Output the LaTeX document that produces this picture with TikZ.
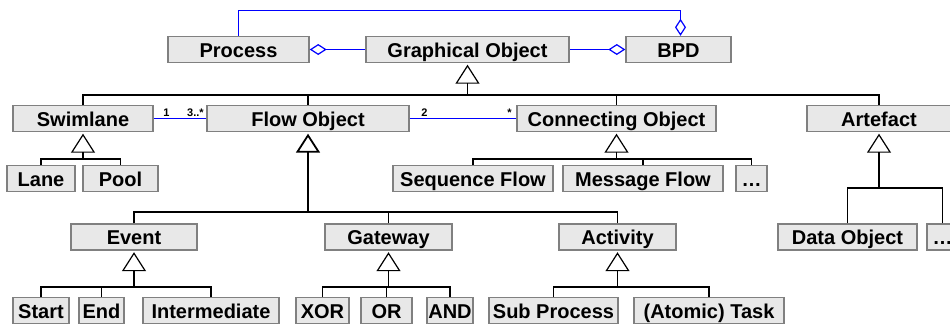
\documentclass[tikz,border=0pt]{standalone}
\usepackage{fontspec}
\setmainfont{Liberation Sans}
\usetikzlibrary{arrows.meta}
\definecolor{boxedge}{RGB}{128,128,128}
\definecolor{boxfill}{RGB}{232,232,232}
\tikzset{
	cls/.style={draw=boxedge, fill=boxfill, line width=1.4pt, inner sep=0pt,
		minimum height=26pt, text height=17pt, text depth=1.5pt,
		font=\bfseries\fontsize{20}{24}\selectfont},
	tree/.style={line width=1.2pt, black},
	isa/.style={line width=1.2pt, -{Triangle[open, length=19pt, width=24pt]}, shorten >=1.5pt},
	agg/.style={line width=1.2pt, blue, {Diamond[open, length=17pt, width=11pt]}-},
	assoc/.style={line width=1.2pt, blue},
	mult/.style={font=\bfseries\fontsize{11}{13}\selectfont, inner sep=1pt, text=black}
}

\begin{document}
\begin{tikzpicture}[x=1pt, y=-1pt]
		%%%%% START %%%%%
		\useasboundingbox (0,0) rectangle (950,327);
		\clip (0,0) rectangle (950,327);
		
		% top row
		\node[cls, minimum width=141] (process) at (238.5,49.5) {Process};
		\node[cls, minimum width=203] (graphical) at (467.5,49.5) {Graphical Object};
		\node[cls, minimum width=105] (bpd) at (678.5,49.5) {BPD};
		
		% second row
		\node[cls, minimum width=140] (swimlane) at (83,118.5) {Swimlane};
		\node[cls, minimum width=202] (flowobj) at (308,118.5) {Flow Object};
		\node[cls, minimum width=199] (connobj) at (616.5,118.5) {Connecting Object};
		\node[cls, minimum width=144] (artefact) at (879,118.5) {Artefact};
		
		\node[cls, minimum width=68] (lane) at (41,178.5) {Lane};
		\node[cls, minimum width=75] (pool) at (120.5,178.5) {Pool};
		\node[cls, minimum width=160] (seqflow) at (473,178.5) {Sequence Flow};
		\node[cls, minimum width=160] (msgflow) at (643,178.5) {Message Flow};
		\node[cls, minimum width=31] (connmore) at (751.5,178.5) {\dots};
		
		\node[cls, minimum width=126] (event) at (134,237) {Event};
		\node[cls, minimum width=127] (gateway) at (388.5,237) {Gateway};
		\node[cls, minimum width=117] (activity) at (617.5,237) {Activity};
		\node[cls, minimum width=139] (dataobj) at (847.5,237) {Data Object};
		\node[cls, minimum width=31] (artmore) at (942.5,237) {\dots};
		
		\node[cls, minimum width=56] (evstart) at (41,310.5) {Start};
		\node[cls, minimum width=45] (evend) at (101.5,310.5) {End};
		\node[cls, minimum width=136] (evinter) at (211,310.5) {Intermediate};
		\node[cls, minimum width=53] (xor) at (322.5,310.5) {XOR};
		\node[cls, minimum width=51] (or) at (386.5,310.5) {OR};
		\node[cls, minimum width=46] (and) at (450,310.5) {AND};
		\node[cls, minimum width=129] (subproc) at (553.5,310.5) {Sub Process};
		\node[cls, minimum width=150] (atomic) at (709,310.5) {(Atomic) Task};
		
		% junctions of the generalisation trees
		\coordinate (gobj-j) at (467.5,95);
		\coordinate (swim-j) at (83,159);
		\coordinate (flow-j) at (308,212);
		\coordinate (conn-j) at (616.5,159);
		\coordinate (art-j) at (879,188);
		\coordinate (event-j) at (134,287);
		\coordinate (gate-j) at (388.5,287);
		\coordinate (act-j) at (617.5,287);
		
		\draw[isa] (gobj-j) -- (graphical.south);
		\foreach \c in {swimlane, flowobj, connobj, artefact}
			\draw[tree] (\c.north) |- (gobj-j);
		
		\draw[isa] (swim-j) -- (swimlane.south);
		\foreach \c in {lane, pool}
			\draw[tree] (\c.north) |- (swim-j);
		
		\draw[isa, line width=1.8pt] (flow-j) -- (flowobj.south);
		\foreach \c in {event, gateway, activity}
			\draw[tree] (\c.north) |- (flow-j);
		
		\draw[isa] (conn-j) -- (connobj.south);
		\foreach \c in {seqflow, msgflow, connmore}
			\draw[tree] (\c.north) |- (conn-j);
		
		\draw[isa] (art-j) -- (artefact.south);
		\foreach \c in {dataobj, artmore}
			\draw[tree] (\c.north) |- (art-j);
		
		\draw[isa] (event-j) -- (event.south);
		\foreach \c in {evstart, evend, evinter}
			\draw[tree] (\c.north) |- (event-j);
		
		\draw[isa] (gate-j) -- (gateway.south);
		\foreach \c in {xor, or, and}
			\draw[tree] (\c.north) |- (gate-j);
		
		\draw[isa] (act-j) -- (activity.south);
		\foreach \c in {subproc, atomic}
			\draw[tree] (\c.north) |- (act-j);
		
		% aggregations and associations
		\draw[agg] (process.east) -- (graphical.west);
		\draw[agg] (bpd.west) -- (graphical.east);
		\draw[agg] ([xshift=2pt]bpd.north) -- ++(0,-25) -| (process.north);
		
		\draw[assoc] (swimlane.east) -- (flowobj.west)
			node[mult, pos=0, anchor=south west, xshift=8pt] {1}
			node[mult, pos=1, anchor=south east, xshift=-1pt] {3..*};
		\draw[assoc] (flowobj.east) -- (connobj.west)
			node[mult, pos=0, anchor=south west, xshift=10pt] {2}
			node[mult, pos=1, anchor=south east, xshift=-3pt] {*};
		
		%%%%% END %%%%%
	\end{tikzpicture}
\end{document}
